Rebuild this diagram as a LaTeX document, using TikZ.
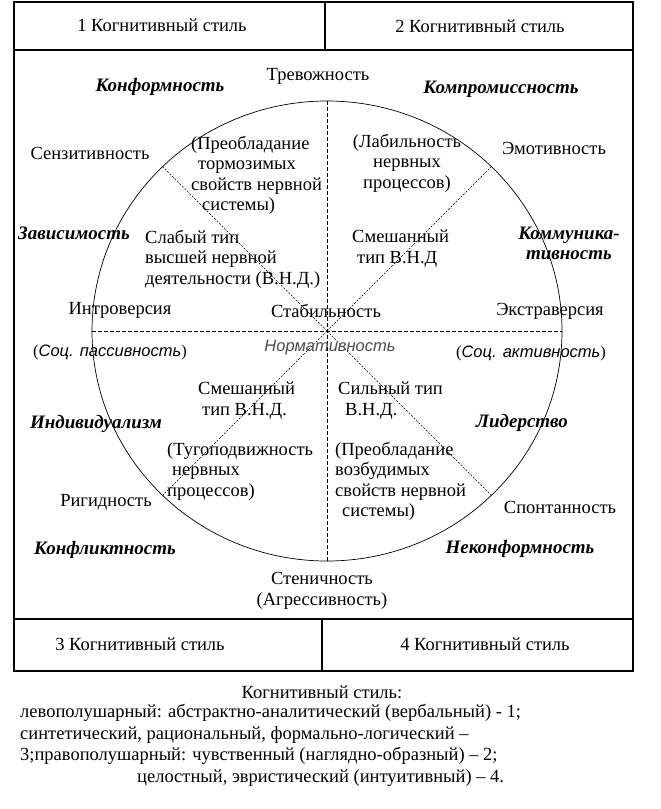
\documentclass[tikz,border=0pt]{standalone}
\usepackage{fontspec}
\setmainfont{Liberation Serif}
\newfontfamily\socfont{Liberation Sans}
\usetikzlibrary{shapes.geometric}

\begin{document}
\begin{tikzpicture}[x=1pt,y=-1pt,
			frame/.style={line width=1.3pt},
			axis/.style={dash pattern=on 4pt off 2pt,line width=0.7pt},
			diag/.style={dash pattern=on 2pt off 1.5pt,line width=0.6pt},
			txt/.style={inner sep=0pt,font=\fontsize{18.5}{20.5}\selectfont},
			ml/.style={txt,align=left,anchor=north west},
			bi/.style={inner sep=0pt,font=\fontsize{19}{20}\selectfont\bfseries\itshape},
			soc/.style={inner sep=0pt,font=\fontsize{16.5}{20}\selectfont}]
			
			\useasboundingbox[fill=white] (0,0) rectangle (661,809);
			
			% Table frame with the four style cells
			\draw[frame] (14,2) rectangle (633,671);
			\draw[frame] (14,50) -- (633,50);
			\draw[frame] (14,619) -- (633,619);
			\draw[frame] (325,2) -- (325,50);
			\draw[frame] (322,619) -- (322,671);
			\node[txt] (st1) at (162,25) {1 Когнитивный стиль};
			\node[txt] (st2) at (480,26) {2 Когнитивный стиль};
			\node[txt] (st3) at (140,644) {3 Когнитивный стиль};
			\node[txt] (st4) at (485,644) {4 Когнитивный стиль};
			
			% The wheel and its axes
			\node[draw,ellipse,line width=0.7pt,inner sep=0pt,
			minimum width=470pt,minimum height=460pt] (wheel) at (327,331) {};
			\draw[axis] (wheel.north) -- (wheel.south);
			\draw[axis] (wheel.west) -- (wheel.east);
			\foreach \a in {45,135,225,315} {
				\draw[diag] (wheel.center) -- (wheel.\a);
			}
			
			% Poles of the axes
			\node[txt] (trev) at (318,76) {Тревожность};
			\node[txt,align=center] (sten) at (322,591)
			{Стеничность\\(Агрессивность)};
			\node[txt] (intro) at (120,310) {Интроверсия};
			\node[txt] (stab) at (326,311) {Стабильность};
			\node[txt] (extra) at (550,311) {Экстраверсия};
			\node[soc,text=black!70] (norm) at (330,348)
			{\socfont\itshape Нормативность};
			\node[soc] (pass) at (110,352)
			{(\textit{\socfont Соц. пассивность})};
			\node[soc] (akt) at (531,353)
			{(\textit{\socfont Соц. активность})};
			
			% Traits on the diagonals
			\node[txt] (senz) at (90,153) {Сензитивность};
			\node[txt] (emot) at (554,148) {Эмотивность};
			\node[txt] (rig) at (106,502) {Ригидность};
			\node[txt] (spont) at (560,507) {Спонтанность};
			
			% Social behaviour (bold italic)
			\node[bi] (konf) at (160,87) {Конформность};
			\node[bi] (komp) at (501,89) {Компромиссность};
			\node[bi] (zav) at (74,233) {Зависимость};
			\node[bi,align=center] (komm) at (569,243) {Коммуника-\\тивность};
			\node[bi] (ind) at (96,424) {Индивидуализм};
			\node[bi] (lid) at (522,423) {Лидерство};
			\node[bi] (konfl) at (105,550) {Конфликтность};
			\node[bi] (nekonf) at (520,549) {Неконформность};
			
			% Types of higher nervous activity
			\node[ml] (torm) at (191,136)
			{(Преобладание\\\hspace*{7pt}тормозимых\\свойств нервной\\\hspace*{11pt}системы)};
			\node[txt,align=center] (lab) at (407,163)
			{(Лабильность\\нервных\\процессов)};
			\node[ml] (slab) at (145,230)
			{Слабый тип\\высшей нервной\\деятельности (В.Н.Д.)};
			\node[ml] (smes1) at (352,230) {Смешанный\\\hspace*{5pt}тип В.Н.Д};
			\node[ml] (smes2) at (198,382) {Смешанный\\\hspace*{4pt}тип В.Н.Д.};
			\node[ml] (sil) at (338,382) {Сильный тип\\\hspace*{7pt}В.Н.Д.};
			\node[ml] (tug) at (167,442)
			{(Тугоподвижность\\\hspace*{5pt}нервных\\процессов)};
			\node[ml] (vozb) at (335,442)
			{(Преобладание\\возбудимых\\свойств нервной\\\hspace*{7pt}системы)};
			
			% Legend under the table
			\node[txt] (leg) at (322,692) {Когнитивный стиль:};
			\node[txt,anchor=west] (leg1) at (20,713)
			{левополушарный: абстрактно-аналитический (вербальный) - 1;};
			\node[txt,anchor=west] (leg2) at (20,735)
			{синтетический, рациональный, формально-логический –};
			\node[txt,anchor=west] (leg3) at (20,756)
			{3;правополушарный: чувственный (наглядно-образный) – 2;};
			\node[txt,anchor=west] (leg4) at (137,778)
			{целостный, эвристический (интуитивный) – 4.};
			
		\end{tikzpicture}
\end{document}
